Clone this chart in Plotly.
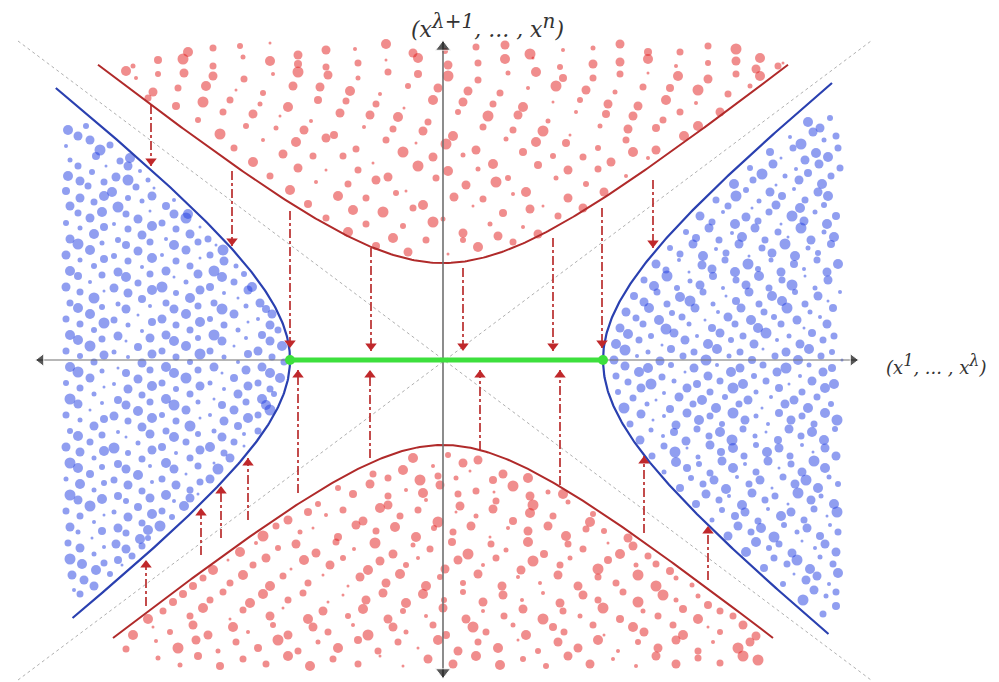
import numpy as np
import plotly.graph_objects as go

# ---------------- data (image pixel coordinates, y downward) ----------------
CENTER = (435, 352)

# hyperbola semi-axes (a, b) and end positions
TOP_RED_AB = (120, 97)
TOP_RED_X_ENDS = (90, 780)
BOTTOM_RED_AB = (106, 85)
BOTTOM_RED_X_ENDS = (105, 765)
LEFT_BLUE_AB = (153, 117)
LEFT_BLUE_Y_ENDS = (80, 610)
RIGHT_BLUE_AB = (160, 125)
RIGHT_BLUE_Y_ENDS = (75, 626)

GUIDE_LINES = [((10, 33), (863, 672)), ((10, 672), (863, 33))]
H_AXIS_X = (28, 850)
V_AXIS_Y = (33, 670)

# (x, y_start, y_end)
DOWN_ARROWS = [(143, 97, 158), (224, 163, 238), (282, 203, 340), (363, 240, 343),
               (455, 260, 343), (545, 230, 343), (594, 200, 340), (645, 172, 240)]
UP_ARROWS = [(138, 598, 552), (193, 547, 500), (213, 530, 478), (240, 512, 450),
             (290, 485, 362), (362, 450, 362), (472, 442, 362), (552, 477, 362),
             (636, 525, 448), (700, 572, 518)]

LABEL_TOP = ("<i>(x<sup><span style='font-size:20px'>λ+1</span></sup>, ... , "
             "x<sup><span style='font-size:20px'>n</span></sup>)</i>")
LABEL_RIGHT = ("<i>(x<sup><span style='font-size:16px'>1</span></sup>, ... , "
               "x<sup><span style='font-size:16px'>λ</span></sup>)</i>")

TOP_RED = [
    (180,44),(232,38),(290,47),(347,41),(405,45),(468,39),(522,46),(585,40),(640,44),(700,38),(752,50),
    (205,40),(262,35),(318,42),(378,36),(437,43),(497,37),(555,42),(612,36),(672,44),(728,41),
    (125,58),(150,52),(205,58),(262,53),(318,59),(378,52),(440,57),(497,51),(552,59),(612,54),(668,58),(728,53),(770,58),
    (175,51),(235,49),(290,56),(350,55),(410,50),(470,55),(525,50),(585,56),(640,51),(700,55),(748,61),
    (128,70),(176,65),(236,71),(290,64),(350,70),(410,66),(470,72),(528,64),(585,70),(640,65),(700,71),(752,68),
    (150,66),(205,68),(265,66),(320,67),(380,64),(440,68),(500,65),(555,70),(612,66),(670,68),(728,66),(775,55),
    (145,84),(198,78),(255,85),(312,79),(372,86),(430,80),(492,85),(548,78),(607,84),(662,80),(720,86),
    (118,63),(170,80),(228,82),(285,78),(342,83),(400,78),(460,83),(520,80),(578,82),(635,79),(690,82),(742,78),
    (168,98),(222,92),(280,99),(338,93),(396,100),(455,94),(515,99),(572,92),(630,98),(688,95),(712,104),
    (140,90),(195,94),(252,96),(310,92),(368,96),(425,92),(485,96),(545,94),(600,96),(658,92),
    (190,112),(245,106),(303,113),(362,107),(420,114),(480,108),(540,113),(598,106),(655,112),(690,118),
    (215,104),(272,108),(332,105),(390,109),(450,104),(510,107),(568,104),(625,108),(672,104),
    (212,126),(268,120),(326,127),(385,121),(445,128),(505,122),(562,127),(620,121),(676,128),
    (238,118),(296,122),(356,119),(415,123),(475,119),(535,123),(592,118),(648,120),
    (226,140),(288,134),(348,141),(408,135),(468,142),(528,134),(590,140),(648,142),
    (255,132),(318,130),(378,132),(438,136),(498,131),(558,135),(618,132),
    (245,154),(305,148),(365,155),(425,149),(485,156),(545,148),(603,154),(640,150),
    (275,146),(335,148),(395,144),(455,147),(515,144),(575,149),(625,144),
    (262,168),(318,162),(380,169),(440,163),(500,170),(560,162),(618,168),
    (290,160),(350,162),(410,158),(470,161),(530,157),(590,161),
    (282,182),(340,176),(398,183),(458,177),(518,184),(578,176),(596,184),
    (308,174),(368,172),(428,170),(488,174),(548,170),
    (300,196),(358,190),(415,197),(475,191),(535,198),(575,200),
    (330,188),(388,185),(446,189),(505,186),(560,190),
    (318,210),(375,204),(435,211),(495,205),(550,208),
    (345,202),(405,200),(465,198),(522,201),
    (340,224),(395,218),(455,225),(515,219),(530,226),
    (358,216),(425,214),(482,216),
    (368,238),(418,232),(470,239),(505,234),(440,246),(400,244),
    (385,230),(455,232),(490,228),
]

BOTTOM_RED = [
    (405,450),(440,447),(470,452),(425,458),(455,455),(380,470),(412,472),(448,470),(485,472),
    (365,466),(395,462),(430,468),(462,463),(495,466),(520,470),
    (330,480),(362,476),(398,482),(432,477),(468,483),(505,478),(540,484),
    (345,486),(380,488),(415,485),(450,486),(486,484),(522,488),(555,486),
    (310,496),(380,497),(418,492),(452,498),(488,493),(525,497),(560,494),
    (300,504),(335,502),(372,500),(410,502),(448,504),(485,501),(522,505),(585,506),
    (280,512),(318,507),(355,513),(392,508),(430,514),(468,508),(505,513),(545,508),(582,514),
    (268,518),(305,520),(348,517),(387,519),(426,520),(463,518),(500,520),(540,518),(578,521),
    (255,528),(292,524),(330,529),(368,523),(408,529),(445,524),(482,529),(520,523),(558,528),(596,523),(620,530),
    (248,535),(288,536),(328,534),(367,535),(405,537),(444,534),(483,536),(520,534),(560,536),(600,535),(625,538),
    (232,544),(270,540),(308,545),(346,541),(385,546),(422,541),(460,546),(498,542),(536,546),(575,541),(612,546),(640,548),
    (220,552),(258,550),(296,552),(335,550),(372,553),(410,550),(450,552),(488,550),(525,553),(562,550),(600,552),(648,556),
    (205,562),(245,557),(283,561),(322,557),(360,562),(398,557),(437,561),(475,557),(513,562),(552,557),(590,561),(628,557),(662,563),
    (195,570),(235,567),(275,568),(315,567),(352,569),(392,566),(432,569),(470,566),(510,569),(550,567),(590,569),(630,567),(668,570),
    (185,578),(222,575),(262,578),(300,575),(340,578),(378,575),(418,578),(455,575),(494,578),(532,575),(570,578),(608,575),(648,578),(684,577),
    (175,586),(215,584),(255,586),(295,585),(335,587),(375,585),(415,586),(455,584),(495,587),(535,585),(575,587),(615,584),(655,587),(690,588),
    (165,594),(202,592),(242,595),(280,592),(320,594),(358,592),(398,595),(436,592),(475,594),(514,592),(552,595),(590,592),(630,594),(668,592),(700,597),
    (155,603),(195,600),(235,602),(275,600),(315,603),(355,601),(395,603),(435,600),(475,603),(515,601),(555,603),(595,600),(635,603),(675,601),(712,603),
    (140,611),(182,608),(222,611),(262,608),(300,611),(340,608),(380,611),(418,608),(458,611),(496,608),(535,611),(572,608),(612,611),(650,608),(690,611),(725,608),
    (145,619),(185,617),(225,619),(265,617),(305,619),(345,617),(385,619),(425,617),(465,619),(505,617),(545,619),(585,617),(625,619),(665,617),(700,619),(735,617),
    (125,627),(162,624),(200,627),(240,624),(280,627),(320,624),(360,627),(398,624),(438,627),(478,624),(518,627),(556,624),(596,627),(636,624),(675,627),(712,624),(748,628),
    (148,633),(188,632),(228,634),(270,632),(310,634),(350,632),(390,634),(430,632),(470,634),(510,632),(550,634),(590,632),(630,634),(668,632),(705,634),(742,634),
    (118,641),(170,640),(210,643),(250,640),(290,643),(330,640),(370,643),(410,640),(450,643),(490,640),(530,643),(570,640),(610,643),(650,640),(690,643),(730,640),
    (150,650),(190,648),(235,651),(280,648),(325,651),(372,648),(420,651),(468,648),(515,651),(560,648),(605,651),(648,648),(690,650),(735,648),
    (172,657),(212,658),(258,656),(302,658),(350,656),(395,658),(445,656),(492,657),(538,658),(582,656),(628,658),(668,656),(712,655),(750,652),
]

LEFT_BLUE = [
    (60,122),(78,118),(70,128),(58,138),(82,132),(102,137),(92,142),
    (62,152),(88,148),(112,153),(122,150),(70,158),(98,158),(120,158),
    (60,168),(84,164),(108,169),(132,163),(72,173),(96,174),(120,172),(140,172),
    (58,183),(80,178),(104,184),(128,179),(146,180),(72,190),(96,188),(120,190),(144,188),(166,192),
    (62,198),(86,194),(110,199),(134,193),(158,198),(70,205),(94,204),(118,206),(142,203),(166,206),(180,206),
    (58,215),(82,210),(106,216),(130,211),(154,215),(178,210),(72,220),(96,219),(120,221),(144,218),(168,221),(192,219),
    (62,231),(86,226),(110,232),(134,227),(158,231),(182,226),(200,231),(70,236),(94,235),(118,237),(142,234),(166,237),(190,234),(208,237),
    (58,247),(82,242),(106,248),(130,243),(154,247),(178,242),(202,247),(215,242),(72,252),(96,251),(120,253),(144,250),(168,253),(192,250),(216,253),
    (62,263),(86,258),(110,264),(134,259),(158,263),(182,258),(206,263),(228,258),(70,268),(94,267),(118,269),(142,266),(166,269),(190,266),(214,269),(236,266),
    (58,279),(82,274),(106,280),(130,275),(154,279),(178,274),(202,279),(226,274),(244,279),(72,284),(96,283),(120,285),(144,282),(168,285),(192,282),(216,285),(240,282),
    (62,295),(86,290),(110,296),(134,291),(158,295),(182,290),(206,295),(230,290),(252,295),(70,300),(94,299),(118,301),(142,298),(166,301),(190,298),(214,301),(238,298),(258,301),
    (58,311),(82,306),(106,312),(130,307),(154,311),(178,306),(202,311),(226,306),(250,311),(264,306),(72,316),(96,315),(120,317),(144,314),(168,317),(192,314),(216,317),(240,314),(262,317),
    (62,327),(86,322),(110,328),(134,323),(158,327),(182,322),(206,327),(230,322),(254,327),(270,322),(70,332),(94,331),(118,333),(142,330),(166,333),(190,330),(214,333),(238,330),(262,333),
    (58,343),(82,338),(106,344),(130,339),(154,343),(178,338),(202,343),(226,338),(250,343),(274,338),(72,348),(96,347),(120,349),(144,346),(168,349),(192,346),(216,349),(240,346),(264,349),
    (62,359),(86,354),(110,360),(134,355),(158,359),(182,354),(206,359),(230,354),(254,359),(276,354),(70,364),(94,363),(118,365),(142,362),(166,365),(190,362),(214,365),(238,362),(262,365),
    (58,375),(82,370),(106,376),(130,371),(154,375),(178,370),(202,375),(226,370),(250,375),(272,370),(72,380),(96,379),(120,381),(144,378),(168,381),(192,378),(216,381),(240,378),(262,381),
    (62,391),(86,386),(110,392),(134,387),(158,391),(182,386),(206,391),(230,386),(254,391),(266,386),(70,396),(94,395),(118,397),(142,394),(166,397),(190,394),(214,397),(238,394),(258,397),
    (58,407),(82,402),(106,408),(130,403),(154,407),(178,402),(202,407),(226,402),(250,407),(262,402),(72,412),(96,411),(120,413),(144,410),(168,413),(192,410),(216,413),(240,410),
    (62,423),(86,418),(110,424),(134,419),(158,423),(182,418),(206,423),(230,418),(250,423),(70,428),(94,427),(118,429),(142,426),(166,429),(190,426),(214,429),(236,426),
    (58,439),(82,434),(106,440),(130,435),(154,439),(178,434),(202,439),(226,434),(236,438),(72,444),(96,443),(120,445),(144,442),(168,445),(192,442),(216,445),
    (62,455),(86,450),(110,456),(134,451),(158,455),(182,450),(206,455),(222,450),(70,460),(94,459),(118,461),(142,458),(166,461),(190,458),(210,461),
    (58,471),(82,466),(106,472),(130,467),(154,471),(178,466),(202,471),(72,476),(96,475),(120,477),(144,474),(168,477),(192,474),
    (62,487),(86,482),(110,488),(134,483),(158,487),(182,482),(190,486),(70,492),(94,491),(118,493),(142,490),(166,493),(182,490),
    (58,503),(82,498),(106,504),(130,499),(154,503),(176,498),(72,508),(96,507),(120,509),(144,506),(164,509),
    (62,519),(86,514),(110,520),(134,515),(152,518),(70,524),(94,523),(118,525),(140,522),
    (60,535),(84,530),(108,536),(132,531),(140,530),(72,540),(96,539),(118,541),(134,538),
    (62,551),(86,546),(110,552),(124,548),(74,556),(96,555),(114,557),
    (64,567),(88,562),(102,566),(76,572),(66,582),(86,578),(72,586),
]

RIGHT_BLUE = [
    (800,114),(822,110),(812,120),(782,129),(805,124),(828,128),(793,136),(816,132),
    (762,144),(785,140),(808,145),(830,140),(773,150),(797,152),(820,149),
    (742,160),(765,156),(788,161),(811,156),(832,160),(754,166),(777,168),(800,165),(823,168),
    (726,176),(745,172),(768,177),(791,172),(814,176),(738,182),(762,184),(786,181),(810,184),
    (708,192),(728,188),(751,193),(774,188),(797,192),(820,188),(720,198),(744,200),(768,197),(792,200),(816,197),
    (692,208),(715,204),(738,209),(761,204),(784,208),(807,204),(828,208),(704,214),(727,216),(750,213),(773,216),(796,213),(819,216),
    (678,224),(701,220),(724,225),(747,220),(770,224),(793,220),(816,224),(688,230),(711,232),(734,229),(757,232),(780,229),(803,232),(826,229),
    (662,240),(685,236),(708,241),(731,236),(754,240),(777,236),(800,240),(823,236),(672,246),(695,248),(718,245),(741,248),(764,245),(787,248),(810,245),
    (648,256),(671,252),(694,257),(717,252),(740,256),(763,252),(786,256),(809,252),(830,256),(658,262),(681,264),(704,261),(727,264),(750,261),(773,264),(796,261),(819,264),
    (636,272),(659,268),(682,273),(705,268),(728,272),(751,268),(774,272),(797,268),(820,272),(646,278),(669,280),(692,277),(715,280),(738,277),(761,280),(784,277),(807,280),
    (626,288),(649,284),(672,289),(695,284),(718,288),(741,284),(764,288),(787,284),(810,288),(832,284),(636,294),(659,296),(682,293),(705,296),(728,293),(751,296),(774,293),(797,296),(820,293),
    (618,304),(641,300),(664,305),(687,300),(710,304),(733,300),(756,304),(779,300),(802,304),(825,300),(628,310),(651,312),(674,309),(697,312),(720,309),(743,312),(766,309),(789,312),(812,309),
    (612,320),(635,316),(658,321),(681,316),(704,320),(727,316),(750,320),(773,316),(796,320),(819,316),(620,326),(643,328),(666,325),(689,328),(712,325),(735,328),(758,325),(781,328),(804,325),(826,328),
    (608,336),(631,332),(654,337),(677,332),(700,336),(723,332),(746,336),(769,332),(792,336),(815,332),(617,342),(640,344),(663,341),(686,344),(709,341),(732,344),(755,341),(778,344),(801,341),(824,344),
    (606,352),(629,348),(652,353),(675,348),(698,352),(721,348),(744,352),(767,348),(790,352),(813,348),(834,352),(617,358),(640,360),(663,357),(686,360),(709,357),(732,360),(755,357),(778,360),(801,357),(824,360),
    (608,368),(631,364),(654,369),(677,364),(700,368),(723,364),(746,368),(769,364),(792,368),(815,364),(620,374),(643,376),(666,373),(689,376),(712,373),(735,376),(758,373),(781,376),(804,373),(826,376),
    (610,384),(633,380),(656,385),(679,380),(702,384),(725,380),(748,384),(771,380),(794,384),(817,380),(625,390),(648,392),(671,389),(694,392),(717,389),(740,392),(763,389),(786,392),(809,389),
    (616,400),(639,396),(662,401),(685,396),(708,400),(731,396),(754,400),(777,396),(800,400),(823,396),(633,406),(656,408),(679,405),(702,408),(725,405),(748,408),(771,405),(794,408),(817,405),
    (622,416),(645,412),(668,417),(691,412),(714,416),(737,412),(760,416),(783,412),(806,416),(829,412),(643,422),(666,424),(689,421),(712,424),(735,421),(758,424),(781,421),(804,424),(827,421),
    (632,432),(655,428),(678,433),(701,428),(724,432),(747,428),(770,432),(793,428),(816,432),(656,438),(679,440),(702,437),(725,440),(748,437),(771,440),(794,437),(817,440),
    (644,448),(667,444),(690,449),(713,444),(736,448),(759,444),(782,448),(805,444),(828,448),(668,454),(691,456),(714,453),(737,456),(760,453),(783,456),(806,453),
    (656,464),(679,460),(702,465),(725,460),(748,464),(771,460),(794,464),(817,460),(683,470),(706,472),(729,469),(752,472),(775,469),(798,472),(821,469),
    (672,480),(695,476),(718,481),(741,476),(764,480),(787,476),(810,480),(830,476),(698,486),(721,488),(744,485),(767,488),(790,485),(813,488),
    (688,496),(711,492),(734,497),(757,492),(780,496),(803,492),(826,496),(714,502),(737,504),(760,501),(783,504),(806,501),(829,504),
    (704,512),(727,508),(750,513),(773,508),(796,512),(819,508),(730,518),(753,520),(776,517),(799,520),(822,517),
    (720,528),(743,524),(766,529),(789,524),(812,528),(830,524),(748,534),(771,536),(794,533),(817,536),
    (738,544),(761,540),(784,545),(807,540),(828,544),(766,550),(789,552),(812,549),
    (756,560),(779,556),(802,561),(825,556),(786,566),(809,568),(830,565),
    (775,576),(798,572),(821,576),(806,582),(828,584),(795,592),(818,588),(828,598),(815,606),
]

# ---------------- styles ----------------
SIZE_PATTERN = [10, 6, 9, 4, 9, 7, 11, 5, 8, 7, 10, 7, 3, 9]
RED_PT = "rgba(226,30,30,0.72)"
BLUE_PT = "rgba(36,64,226,0.72)"
RED_CURVE = "#b02a2a"
BLUE_CURVE = "#2a40b0"
ARROW_RED = "#b52020"

cx, cy = CENTER
fig = go.Figure()


def add_cloud(points, color):
    xs = [p[0] for p in points]
    ys = [p[1] for p in points]
    sizes = [SIZE_PATTERN[i % len(SIZE_PATTERN)] for i in range(len(points))]
    fig.add_trace(go.Scatter(x=xs, y=ys, mode="markers",
                             marker=dict(size=sizes, color=color, line=dict(width=0)),
                             hoverinfo="skip", showlegend=False))


# guide (asymptote) lines
for (p0, p1) in GUIDE_LINES:
    fig.add_trace(go.Scatter(x=[p0[0], p1[0]], y=[p0[1], p1[1]], mode="lines",
                             line=dict(color="#b0b0b0", width=1, dash="dot"),
                             hoverinfo="skip", showlegend=False))

add_cloud(TOP_RED, RED_PT)
add_cloud(BOTTOM_RED, RED_PT)
add_cloud(LEFT_BLUE, BLUE_PT)
add_cloud(RIGHT_BLUE, BLUE_PT)

# hyperbola curves
a, b = TOP_RED_AB
xs = np.linspace(TOP_RED_X_ENDS[0], TOP_RED_X_ENDS[1], 300)
ys = cy - b * np.sqrt(1 + ((xs - cx) / a) ** 2)
fig.add_trace(go.Scatter(x=xs, y=ys, mode="lines", line=dict(color=RED_CURVE, width=2),
                         hoverinfo="skip", showlegend=False))
a, b = BOTTOM_RED_AB
xs = np.linspace(BOTTOM_RED_X_ENDS[0], BOTTOM_RED_X_ENDS[1], 300)
ys = cy + b * np.sqrt(1 + ((xs - cx) / a) ** 2)
fig.add_trace(go.Scatter(x=xs, y=ys, mode="lines", line=dict(color=RED_CURVE, width=2),
                         hoverinfo="skip", showlegend=False))
a, b = LEFT_BLUE_AB
ys = np.linspace(LEFT_BLUE_Y_ENDS[0], LEFT_BLUE_Y_ENDS[1], 300)
xs = cx - a * np.sqrt(1 + ((ys - cy) / b) ** 2)
fig.add_trace(go.Scatter(x=xs, y=ys, mode="lines", line=dict(color=BLUE_CURVE, width=2.2),
                         hoverinfo="skip", showlegend=False))
a, b = RIGHT_BLUE_AB
ys = np.linspace(RIGHT_BLUE_Y_ENDS[0], RIGHT_BLUE_Y_ENDS[1], 300)
xs = cx + a * np.sqrt(1 + ((ys - cy) / b) ** 2)
fig.add_trace(go.Scatter(x=xs, y=ys, mode="lines", line=dict(color=BLUE_CURVE, width=2.2),
                         hoverinfo="skip", showlegend=False))

# axes
fig.add_trace(go.Scatter(x=[H_AXIS_X[0], H_AXIS_X[1]], y=[cy, cy], mode="lines",
                         line=dict(color="#707070", width=1.2), hoverinfo="skip", showlegend=False))
fig.add_trace(go.Scatter(x=[cx, cx], y=[V_AXIS_Y[0], V_AXIS_Y[1]], mode="lines",
                         line=dict(color="#707070", width=1.6), hoverinfo="skip", showlegend=False))
fig.add_trace(go.Scatter(x=[H_AXIS_X[0] + 5, H_AXIS_X[1] - 5, cx, cx],
                         y=[cy, cy, V_AXIS_Y[0] + 6, V_AXIS_Y[1] - 6], mode="markers",
                         marker=dict(symbol=["triangle-left", "triangle-right", "triangle-up", "triangle-down"],
                                     size=[11, 11, 13, 13], color="#111"),
                         hoverinfo="skip", showlegend=False))

# red arrows
for (x, y0, y1) in DOWN_ARROWS + UP_ARROWS:
    fig.add_trace(go.Scatter(x=[x, x], y=[y0, y1], mode="lines",
                             line=dict(color=ARROW_RED, width=1.6, dash="dashdot"),
                             hoverinfo="skip", showlegend=False))
fig.add_trace(go.Scatter(x=[x for (x, _, _) in DOWN_ARROWS], y=[y1 - 5 for (_, _, y1) in DOWN_ARROWS],
                         mode="markers", marker=dict(symbol="triangle-down", size=10, color="#c0282b"),
                         hoverinfo="skip", showlegend=False))
fig.add_trace(go.Scatter(x=[x for (x, _, _) in UP_ARROWS], y=[y1 + 5 for (_, _, y1) in UP_ARROWS],
                         mode="markers", marker=dict(symbol="triangle-up", size=10, color="#c0282b"),
                         hoverinfo="skip", showlegend=False))

# green segment between the blue vertices
gx = [cx - LEFT_BLUE_AB[0], cx + RIGHT_BLUE_AB[0]]
fig.add_trace(go.Scatter(x=gx, y=[cy, cy], mode="lines+markers",
                         line=dict(color="#3de03d", width=5),
                         marker=dict(size=10, color="#3de03d"),
                         hoverinfo="skip", showlegend=False))

fig.add_annotation(x=479, y=17, text=LABEL_TOP, showarrow=False,
                   font=dict(family="DejaVu Serif", size=22, color="#333"))
fig.add_annotation(x=928, y=356, text=LABEL_RIGHT, showarrow=False,
                   font=dict(family="DejaVu Serif", size=18, color="#333"))

fig.update_layout(width=999, height=682, margin=dict(l=0, r=0, t=0, b=0),
                  paper_bgcolor="white", plot_bgcolor="white", showlegend=False)
fig.update_xaxes(range=[0, 999], visible=False, showgrid=False, zeroline=False)
fig.update_yaxes(range=[682, 0], visible=False, showgrid=False, zeroline=False)

fig.write_html("out.html")
